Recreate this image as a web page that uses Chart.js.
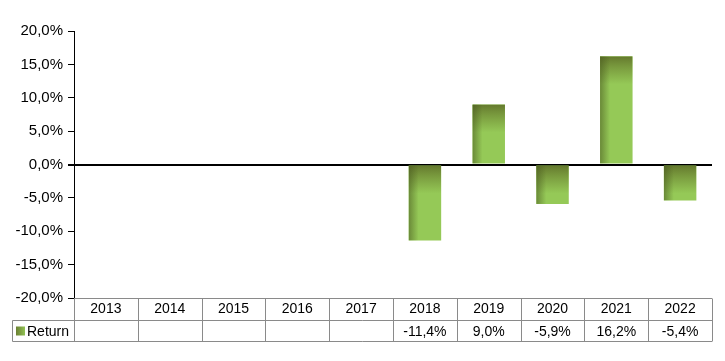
<!DOCTYPE html>
<html>
<head>
<meta charset="utf-8">
<script src="https://cdn.jsdelivr.net/npm/chart.js@4.4.1/dist/chart.umd.min.js"></script>
<style>
html,body{margin:0;padding:0;background:#fff;}
#wrap{width:725px;height:361px;position:relative;}
</style>
</head>
<body>
<div id="wrap"><canvas id="c" width="725" height="361"></canvas></div>
<script>
const categories = ['2013','2014','2015','2016','2017','2018','2019','2020','2021','2022'];
const returns = [null, null, null, null, null, -11.4, 9.0, -5.9, 16.2, -5.4];
const seriesName = 'Return';
const yTicks = [-20, -15, -10, -5, 0, 5, 10, 15, 20];

const FONT = '"Liberation Sans", Arial, sans-serif';
const DARK = '#6b8033';
const LIGHT = '#95c957';

function fmt(v){ return v.toFixed(1).replace('.', ',') + '%'; }

const bevelPlugin = {
  id: 'bevel',
  afterDatasetsDraw(chart){
    const meta = chart.getDatasetMeta(0);
    const c = chart.ctx;
    meta.data.forEach((el, i) => {
      if (returns[i] === null) return;
      const p = el.getProps(['x','y','base','width'], true);
      const left = p.x - p.width/2;
      const w = p.width;
      const top = Math.min(p.y, p.base), bot = Math.max(p.y, p.base);
      const h = bot - top;
      c.save();
      c.beginPath();
      c.rect(left, top, w, h);
      c.clip();
      const gv = c.createLinearGradient(0, top, 0, top + 28);
      gv.addColorStop(0, 'rgba(100,120,45,1)');
      gv.addColorStop(0.4, 'rgba(108,132,50,0.65)');
      gv.addColorStop(1, 'rgba(110,135,50,0)');
      c.fillStyle = gv;
      c.fillRect(left, top, w, Math.min(28, h));
      const gh = c.createLinearGradient(left, 0, left + 10, 0);
      gh.addColorStop(0, 'rgba(70,85,30,0.55)');
      gh.addColorStop(1, 'rgba(70,85,30,0)');
      c.fillStyle = gh;
      c.fillRect(left, top, 10, h);
      c.restore();
    });
  }
};

const tablePlugin = {
  id: 'table',
  afterDraw(chart){
    const c = chart.ctx;
    const xs = chart.scales.x;
    const area = chart.chartArea;
    const n = categories.length;
    const step = xs.getPixelForValue(1) - xs.getPixelForValue(0);
    const top = area.bottom + 0.5;
    const r1 = top + 22;
    const r2 = r1 + 21;
    const legendLeft = 12.5;
    c.save();
    c.strokeStyle = '#8a8a8a';
    c.lineWidth = 1;
    c.beginPath();
    c.moveTo(area.left, top); c.lineTo(area.right, top);
    c.moveTo(legendLeft, r1); c.lineTo(area.right, r1);
    c.moveTo(legendLeft, r2); c.lineTo(area.right, r2);
    c.moveTo(legendLeft, r1); c.lineTo(legendLeft, r2);
    for (let i = 0; i <= n; i++) {
      const bx = Math.round(xs.getPixelForValue(0) - step/2 + i*step) + 0.5;
      c.moveTo(bx, top); c.lineTo(bx, r2);
    }
    c.stroke();
    c.fillStyle = '#000';
    c.font = '14px ' + FONT;
    c.textAlign = 'center';
    c.textBaseline = 'middle';
    returns.forEach((v, i) => {
      if (v === null) return;
      c.fillText(fmt(v), xs.getPixelForValue(i), (r1 + r2)/2 + 1);
    });
    const sq = c.createLinearGradient(16, 0, 26, 0);
    sq.addColorStop(0, DARK); sq.addColorStop(1, LIGHT);
    c.fillStyle = sq;
    c.fillRect(16, r1 + 6, 9, 9);
    c.fillStyle = '#000';
    c.textAlign = 'left';
    c.fillText(seriesName, 27, (r1 + r2)/2 + 1);
    c.restore();
  }
};

new Chart(document.getElementById('c'), {
  type: 'bar',
  data: {
    labels: categories,
    datasets: [{
      label: seriesName,
      data: returns,
      backgroundColor: LIGHT,
      borderWidth: 0,
      categoryPercentage: 1,
      barPercentage: 0.51
    }]
  },
  options: {
    responsive: false,
    animation: false,
    events: [],
    layout: { padding: { top: 31, right: 13, left: 0, bottom: 0 } },
    plugins: { legend: { display: false }, tooltip: { enabled: false } },
    scales: {
      x: {
        offset: true,
        grid: { display: false, drawTicks: false },
        border: { display: false },
        ticks: { color: '#000', font: { family: FONT, size: 14 }, padding: 3, maxRotation: 0, autoSkip: false },
        afterFit(s){ s.height = 63; }
      },
      y: {
        min: -20, max: 20,
        afterBuildTicks(s){ s.ticks = yTicks.map(v => ({ value: v })); },
        afterFit(s){ s.width = 74; },
        border: { display: true, color: '#000', width: 1 },
        grid: {
          drawOnChartArea: true,
          color: (ctx) => (ctx.tick && ctx.tick.value === 0) ? '#000' : 'rgba(0,0,0,0)',
          lineWidth: (ctx) => (ctx.tick && ctx.tick.value === 0) ? 2 : 1,
          tickColor: '#000',
          tickLength: 6,
          drawTicks: true
        },
        ticks: {
          color: '#000',
          font: { family: FONT, size: 15 },
          padding: 5,
          callback: (v) => fmt(v)
        }
      }
    }
  },
  plugins: [bevelPlugin, tablePlugin]
});
</script>
</body>
</html>
